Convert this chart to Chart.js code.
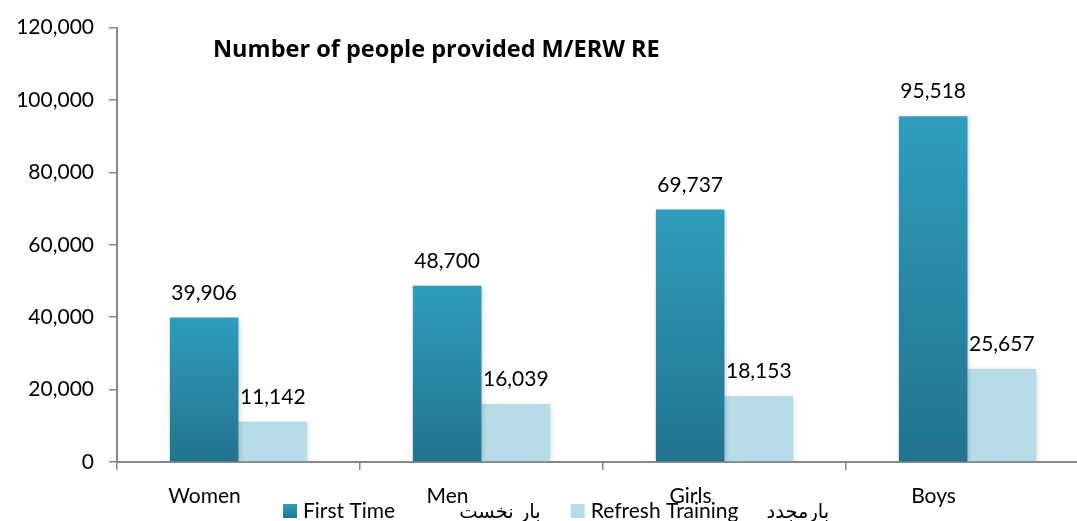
<!DOCTYPE html>
<html>
<head>
<meta charset="utf-8">
<script src="https://cdn.jsdelivr.net/npm/chart.js@4.4.1/dist/chart.umd.min.js"></script>
<style>
  html, body { margin: 0; padding: 0; background: #ffffff; overflow: hidden; }
  #wrap { width: 1077px; height: 521px; overflow: hidden; }
  canvas { display: block; }
</style>
</head>
<body>
<div id="wrap"><canvas id="c" width="1100" height="521"></canvas></div>
<script>
// ---- data ----
const categories = ["Women", "Men", "Girls", "Boys"];
const firstTime = [39906, 48700, 69737, 95518];
const refreshTraining = [11142, 16039, 18153, 25657];
const seriesNames = ["First Time", "Refresh Training"];
const seriesNamesFa = ["بار نخست", "بارمجدد"];
const yTickValues = [0, 20000, 40000, 60000, 80000, 100000, 120000];
const chartTitle = "Number of people provided M/ERW RE";

const FONT = 'Lato, "DejaVu Sans", sans-serif';
const fmt = v => v.toLocaleString('en-US');
const TOP_C = '#2f9dbd', BOT_C = '#22738e', LIGHT_C = '#b6dce7';

function firstGradient(ctx) {
  const chart = ctx.chart;
  const y = chart.scales && chart.scales.y;
  if (!y || ctx.raw === undefined || y.top === undefined) return '#2a89a8';
  const top = y.getPixelForValue(ctx.raw);
  const base = y.getPixelForValue(0);
  if (!isFinite(top) || !isFinite(base) || base - top < 1) return '#2a89a8';
  const g = chart.ctx.createLinearGradient(0, top, 0, base);
  g.addColorStop(0, TOP_C);
  g.addColorStop(1, BOT_C);
  return g;
}

const extras = {
  id: 'extras',
  beforeDatasetDraw(chart) {
    const c = chart.ctx;
    c.save();
    c.shadowColor = 'rgba(0,0,0,0.18)';
    c.shadowBlur = 5;
    c.shadowOffsetX = 1;
    c.shadowOffsetY = 1;
  },
  afterDatasetDraw(chart) {
    chart.ctx.restore();
  },
  afterDatasetsDraw(chart) {
    const c = chart.ctx;
    c.save();
    c.font = '21px ' + FONT;
    c.fillStyle = '#000000';
    c.textAlign = 'center';
    c.textBaseline = 'alphabetic';
    chart.data.datasets.forEach((ds, di) => {
      const meta = chart.getDatasetMeta(di);
      meta.data.forEach((bar, i) => {
        c.fillText(fmt(ds.data[i]), bar.x, bar.y - 18);
      });
    });
    c.font = 'bold 23.5px "Open Sans", ' + FONT;
    c.textAlign = 'left';
    c.fillText(chartTitle, 213, 57);
    c.restore();
  },
  afterDraw(chart) {
    // legend: coloured square, English name, Persian name
    const c = chart.ctx;
    c.save();
    c.textAlign = 'left';
    c.textBaseline = 'alphabetic';
    const latin = '21px ' + FONT, fa = '19.5px "DejaVu Sans", ' + FONT;
    const boxTop = 504, box = 14, baseline = 518;
    const gapAfterName = [64, 28];
    const gapAfterFa = [30, 0];
    let x = 283;
    seriesNames.forEach((name, i) => {
      if (i === 0) {
        const g = c.createLinearGradient(0, boxTop, 0, boxTop + box);
        g.addColorStop(0, TOP_C); g.addColorStop(1, BOT_C);
        c.fillStyle = g;
      } else {
        c.fillStyle = LIGHT_C;
      }
      c.fillRect(x, boxTop, box, box);
      x += box + 6;
      c.fillStyle = '#000000';
      c.font = latin;
      c.fillText(name, x, baseline);
      x += c.measureText(name).width + gapAfterName[i];
      c.font = fa;
      c.fillText(seriesNamesFa[i], x, baseline);
      x += c.measureText(seriesNamesFa[i]).width + gapAfterFa[i];
    });
    c.restore();
  }
};

new Chart(document.getElementById('c'), {
  type: 'bar',
  data: {
    labels: categories,
    datasets: [
      { label: seriesNames[0], data: firstTime, backgroundColor: firstGradient, borderWidth: 0 },
      { label: seriesNames[1], data: refreshTraining, backgroundColor: LIGHT_C, borderWidth: 0 }
    ]
  },
  options: {
    responsive: false,
    animation: false,
    devicePixelRatio: 1,
    layout: { padding: { left: 0, right: 11, top: 19, bottom: 0 } },
    datasets: { bar: { categoryPercentage: 0.565, barPercentage: 1.0 } },
    plugins: {
      tooltip: { enabled: false },
      title: { display: false },
      legend: { display: false }
    },
    scales: {
      x: {
        afterFit(scale) { scale.height = 59; },
        grid: { display: true, drawOnChartArea: false, drawTicks: true, tickLength: 8, color: '#888888', lineWidth: 1.5, offset: true },
        border: { display: true, color: '#888888', width: 2 },
        ticks: { color: '#000000', font: { family: FONT, size: 21 }, padding: 14, labelOffset: -34, maxRotation: 0, autoSkip: false }
      },
      y: {
        min: 0,
        max: 120000,
        afterFit(scale) { scale.width = 117; },
        afterBuildTicks(scale) { scale.ticks = yTickValues.map(v => ({ value: v })); },
        grid: { display: true, drawOnChartArea: false, drawTicks: true, tickLength: 8, color: '#888888', lineWidth: 1.5 },
        border: { display: true, color: '#888888', width: 2 },
        ticks: { color: '#000000', font: { family: FONT, size: 21 }, padding: 15, callback: v => fmt(v) }
      }
    }
  },
  plugins: [extras]
});
</script>
</body>
</html>
